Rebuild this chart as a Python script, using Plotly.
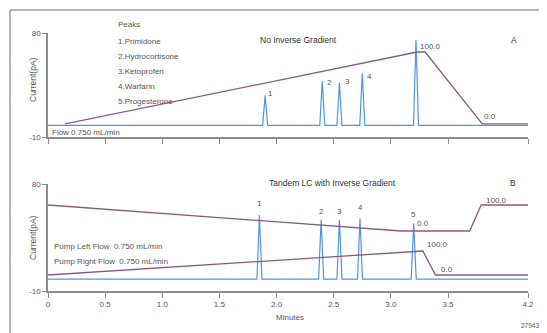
import plotly.graph_objects as go

# ---------------- data ----------------
x_ticks = [0, 0.5, 1.0, 1.5, 2.0, 2.5, 3.0, 3.5, 4.2]
x_tick_labels = ["0", "0.5", "1.0", "1.5", "2.0", "2.5", "3.0", "3.5", "4.2"]
y_ticks = [-10, 80]
y_tick_labels = ["-10", "80"]

# Panel A chromatogram peaks (minutes, pA)
peaks_a_t = [1.90, 2.40, 2.55, 2.75, 3.22]
peaks_a_h = [26, 38, 37, 45, 74]
# Panel B chromatogram peaks
peaks_b_t = [1.85, 2.39, 2.55, 2.73, 3.20]
peaks_b_h = [54, 50, 50, 51, 47]
peak_names = ["1", "2", "3", "4", "5"]

# Gradients (% B)
grad_a_t = [0.15, 3.23, 3.30, 3.80, 4.2]
grad_a_p = [0, 100, 100, 0, 0]
grad_b_left_t = [0, 3.09, 3.69, 3.79, 4.2]
grad_b_left_p = [100, 0, 0, 100, 100]
grad_b_right_t = [0, 3.28, 3.39, 4.2]
grad_b_right_p = [0, 100, 0, 0]

legend_lines = ["Peaks", "1.Primidone", "2.Hydrocortisone", "3.Ketoprofen",
                "4.Warfarin", "5.Progesterone"]

# ---------------- layout helpers ----------------
# the page body has an 8 px margin, so the figure is drawn 8 px smaller
OFF = 8
W, H = 547 - OFF, 333 - OFF
L, R, T, B = 48 - OFF, 19, 33 - OFF, 42
PW, PH = W - L - R, H - T - B


def px(x):  # page pixel -> paper
    return (x - 48) / PW


def py(y):
    return (291 - y) / PH


BLUE = "#4f97dc"
GRAD = "#8a5a86"
AX = "#8c8c8c"
TXT = "#555555"
FONT = "Liberation Sans"

HW = 0.022  # half width of peaks (minutes)


def chrom(times, heights):
    xs, ys = [0.0], [0.0]
    for t, h in zip(times, heights):
        xs += [t - HW, t, t + HW]
        ys += [0, h, 0]
    xs.append(4.2)
    ys.append(0)
    return xs, ys


fig = go.Figure()

ax_t, ay_t = chrom(peaks_a_t, peaks_a_h)
fig.add_trace(go.Scatter(x=ax_t, y=ay_t, mode="lines", xaxis="x", yaxis="y",
                         line=dict(color=BLUE, width=1.2)))
fig.add_trace(go.Scatter(x=grad_a_t, y=grad_a_p, mode="lines", xaxis="x", yaxis="y3",
                         line=dict(color=GRAD, width=1.3)))

bx_t, by_t = chrom(peaks_b_t, peaks_b_h)
fig.add_trace(go.Scatter(x=bx_t, y=by_t, mode="lines", xaxis="x2", yaxis="y2",
                         line=dict(color=BLUE, width=1.2)))
fig.add_trace(go.Scatter(x=grad_b_left_t, y=grad_b_left_p, mode="lines", xaxis="x2", yaxis="y4",
                         line=dict(color=GRAD, width=1.3)))
fig.add_trace(go.Scatter(x=grad_b_right_t, y=grad_b_right_p, mode="lines", xaxis="x2", yaxis="y5",
                         line=dict(color=GRAD, width=1.3)))

xa = dict(range=[0, 4.2], showline=True, linecolor=AX, linewidth=1.5, ticks="outside",
          ticklen=5, tickcolor=AX, tickvals=x_ticks, ticktext=x_tick_labels,
          showgrid=False, zeroline=False, tickfont=dict(size=8, color=TXT, family=FONT))
ya = dict(range=[-10, 80], showline=True, linecolor=AX, linewidth=1.5, ticks="outside",
          ticklen=4, tickcolor=AX, tickvals=y_ticks, ticktext=y_tick_labels,
          showgrid=False, zeroline=False, tickfont=dict(size=8, color=TXT, family=FONT))

top_dom = [py(137), 1.0]
bot_dom = [0.0, py(184)]

fig.update_layout(
    width=W, height=H, margin=dict(l=L, r=R, t=T, b=B),
    paper_bgcolor="white", plot_bgcolor="white", showlegend=False,
    font=dict(family=FONT, size=8, color=TXT),
    xaxis=dict(xa, anchor="y", domain=[0, 1], showticklabels=False),
    xaxis2=dict(xa, anchor="y2", domain=[0, 1]),
    yaxis=dict(ya, anchor="x", domain=top_dom),
    yaxis2=dict(ya, anchor="x2", domain=bot_dom),
    yaxis3=dict(overlaying="y", range=[-18.1, 126.4], visible=False),
    yaxis4=dict(overlaying="y2", range=[-230.8, 180.8], visible=False),
    yaxis5=dict(overlaying="y2", range=[-66.7, 379.2], visible=False),
)

ann = []


def paper_text(text, x, y, size=8, xanchor="left", color=TXT, angle=0):
    ann.append(dict(text=text, xref="paper", yref="paper", x=px(x), y=py(y),
                    xanchor=xanchor, yanchor="middle", showarrow=False, textangle=angle,
                    font=dict(size=size, color=color, family=FONT)))


# legend block
leg_y = [25, 41, 56, 71, 86, 101]
for txt, yy in zip(legend_lines, leg_y):
    paper_text(txt, 116, yy, size=8)

paper_text("No Inverse Gradient", 298, 40, size=8.5, xanchor="center", color="#333")
paper_text("A", 514, 40, size=8.5, xanchor="center", color="#333")
paper_text("Tandem LC with Inverse Gradient", 332, 183, size=8.5, xanchor="center", color="#333")
paper_text("B", 513, 183, size=8.5, xanchor="center", color="#333")
paper_text("Flow 0.750 mL/min", 50, 132, size=8)
paper_text("Pump Left Flow  0.750 mL/min", 52, 246, size=8)
paper_text("Pump Right Flow  0.750 mL/min", 52, 261, size=8)
paper_text("Minutes", 290, 317, size=8, xanchor="center")
paper_text("27943", 541, 325, size=6.5, xanchor="right")
paper_text("Current(pA)", 33, 80, size=8.5, xanchor="center", angle=-90)
paper_text("Current(pA)", 33, 238, size=8.5, xanchor="center", angle=-90)

# peak labels (data coordinates)
top_lab_t = [1.95, 2.46, 2.62, 2.81, 3.22]
top_lab_y = [28, 37, 38, 42, 81]
for n, t, v in zip(peak_names, top_lab_t, top_lab_y):
    ann.append(dict(text=n, xref="x", yref="y", x=t, y=v, showarrow=False,
                    font=dict(size=8, color=TXT, family=FONT)))
bot_lab_y = [64, 57, 57, 60, 54]
for n, t, v in zip(peak_names, peaks_b_t, bot_lab_y):
    ann.append(dict(text=n, xref="x2", yref="y2", x=t, y=v, showarrow=False,
                    font=dict(size=8, color=TXT, family=FONT)))

# gradient labels
for txt, xr, yr, t, p in [("100.0", "x", "y3", 3.35, 107), ("0.0", "x", "y3", 3.87, 11),
                          ("0.0", "x2", "y4", 3.28, 27), ("100.0", "x2", "y4", 3.92, 119),
                          ("100.0", "x2", "y5", 3.41, 125), ("0.0", "x2", "y5", 3.49, 25)]:
    ann.append(dict(text=txt, xref=xr, yref=yr, x=t, y=p, showarrow=False,
                    font=dict(size=8, color=TXT, family=FONT)))

fig.update_layout(annotations=ann)

# outer frame (top and left edges visible)
fig.add_shape(type="line", xref="paper", yref="paper",
              x0=px(10), y0=py(10), x1=px(547), y1=py(10),
              line=dict(color="#9a9a9a", width=1.5), layer="above")
fig.add_shape(type="line", xref="paper", yref="paper",
              x0=px(10), y0=py(10), x1=px(10), y1=py(333),
              line=dict(color="#9a9a9a", width=1.5), layer="above")

fig.write_html("out.html")
